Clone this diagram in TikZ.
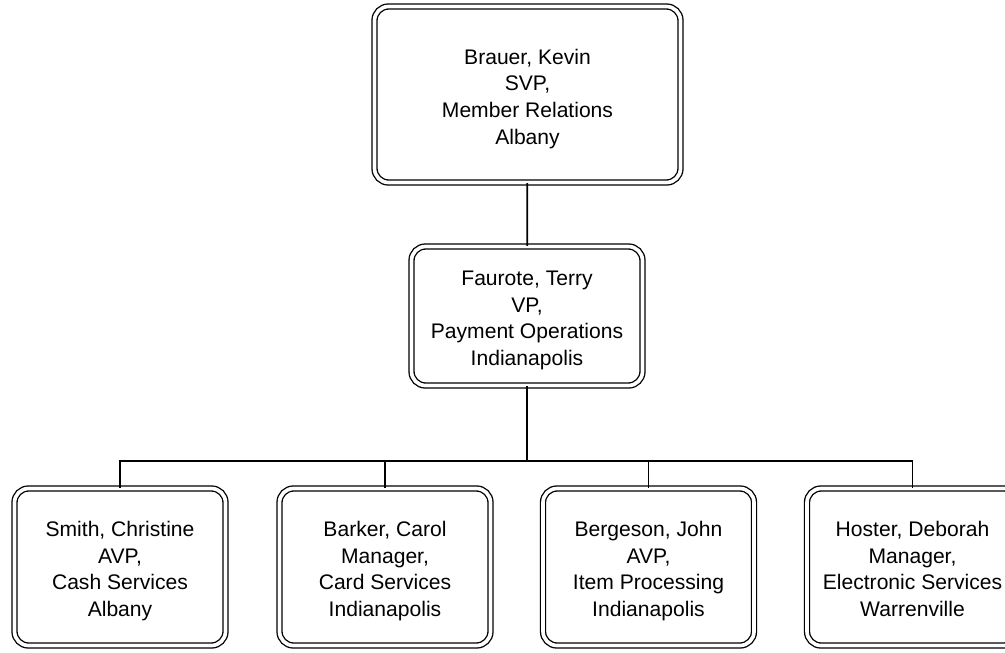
\documentclass[tikz,border=0pt]{standalone}
\usepackage{fontspec}
\setmainfont{Liberation Sans}
\newcommand{\OrgTop}{\rule{0pt}{15.5pt}}

\begin{document}
\begin{tikzpicture}
    [OrgNode/.style={rectangle, rounded corners=0.28cm, draw=black, line width=0.75pt, double, double distance=2.1pt, align=center, inner sep=0pt, font=\fontsize{12}{15.2}\selectfont, execute at end node=\strut},
     TopNode/.style={OrgNode, minimum width=6.12cm, minimum height=3.52cm},
     MidNode/.style={OrgNode, minimum width=4.62cm, minimum height=2.78cm},
     LowNode/.style={OrgNode, minimum width=4.22cm, minimum height=3.14cm},
     Link/.style={draw=black, line width=1pt}]
    \useasboundingbox (0, 0) rectangle (20.1, -13.04);
    \node[TopNode] (brauer) at (10.55, -1.89){\OrgTop Brauer, Kevin\\SVP,\\Member Relations\\Albany};
    \node[MidNode] (faurote) at (10.54, -6.32){\OrgTop Faurote, Terry\\VP,\\Payment Operations\\Indianapolis};
    \node[LowNode] (smith) at (2.40, -11.34){\OrgTop Smith, Christine\\AVP,\\Cash Services\\Albany};
    \node[LowNode] (barker) at (7.70, -11.34){\OrgTop Barker, Carol\\Manager,\\Card Services\\Indianapolis};
    \node[LowNode] (bergeson) at (12.97, -11.34){\OrgTop Bergeson, John\\AVP,\\Item Processing\\Indianapolis};
    \node[LowNode] (hoster) at (18.25, -11.34){\OrgTop Hoster, Deborah\\Manager,\\Electronic Services\\Warrenville};
    \coordinate (bus) at (10.54, -9.22);
    \draw[Link] (brauer) -- (faurote);
    \draw[Link] (faurote) -- (bus);
    \foreach \n in {smith, barker, bergeson, hoster}
        \draw[Link] (bus) -| (\n);
    \end{tikzpicture}
\end{document}
